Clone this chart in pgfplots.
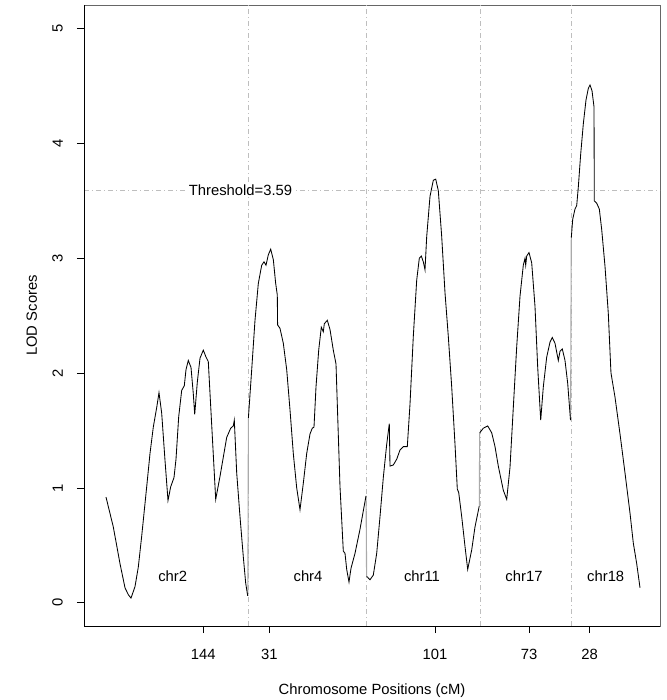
\documentclass[border=0pt]{standalone}
\usepackage{fontspec}
\setmainfont{Liberation Sans}
\usepackage{pgfplots}
\pgfplotsset{compat=1.18}
\definecolor{rgray}{RGB}{190,190,190}
\definecolor{jgray}{RGB}{170,170,170}
\begin{document}
\begin{tikzpicture}[font=\fontsize{14.8}{17}\selectfont]
\begin{axis}[
  scale only axis, width=576pt, height=621pt,
  xmin=84, xmax=660, ymin=-0.203, ymax=5.207,
  axis line style={draw=black!60, line width=0.8pt},
  xtick={203.3,269.3,435,529,589.7},
  xticklabels={144,31,101,73,28},
  ytick={0,1,2,3,4,5},
  tick align=outside, major tick length=7pt,
  tick style={black, line width=0.8pt},
  xtick pos=bottom, ytick pos=left,
  /pgf/number format/assume math mode=true,
  xticklabel style={anchor=north, inner sep=0pt, yshift=-16pt},
  yticklabel style={xshift=-14pt, rotate=90, anchor=south, inner sep=0pt},
  xlabel={Chromosome Positions (cM)},
  ylabel={LOD Scores},
  xlabel style={at={(axis description cs:0.5,-0.0934)}, anchor=north, inner sep=0pt},
  ylabel style={at={(axis description cs:-0.0811,0.5)}, rotate=0, anchor=south, inner sep=0pt},
  clip=false,
]
\coordinate (bl) at (rel axis cs:0,0);
\coordinate (tr) at (rel axis cs:1,1);
% chromosome boundaries and threshold
\foreach \bx in {248.6,366.3,480.0,571.5}{
  \edef\tmp{\noexpand\draw[rgray, line width=0.8pt, dash pattern=on 5pt off 3pt on 1pt off 3pt] (axis cs:\bx,-0.203) -- (axis cs:\bx,5.207);}\tmp
}
\draw[rgray, line width=0.8pt, dash pattern=on 5pt off 3pt on 1pt off 3pt] (axis cs:84,3.59) -- (axis cs:660,3.59);
\node[fill=white, inner sep=1pt] at (axis cs:240.5,3.59) {Threshold=3.59};
% jumps between chromosomes
\addplot[jgray, line width=1.1pt] coordinates {(247.9,0.06) (248.4,1.61)};
\addplot[jgray, line width=1.1pt] coordinates {(366.1,0.93) (366.6,0.23)};
\addplot[jgray, line width=1.1pt] coordinates {(479.3,0.84) (479.7,1.48)};
\addplot[jgray, line width=1.1pt] coordinates {(570.6,1.59) (571.3,3.18)};
% chr2
\addplot[black, line width=0.85pt] table {
x y
106 0.92
113.3 0.66
120 0.34
125 0.13
128.3 0.07
131 0.04
135 0.14
138.3 0.31
141.7 0.58
146.7 1.01
150 1.30
153.3 1.53
156.7 1.70
159 1.83
161.7 1.65
165 1.24
168 0.89
170.7 1.01
174 1.09
176 1.25
178.7 1.62
181.7 1.85
184.3 1.89
186 2.03
188.3 2.11
191 2.05
193.3 1.82
194.7 1.64
197.3 1.92
200 2.13
203.3 2.20
206 2.14
208.3 2.10
215.7 0.90
220 1.10
226.7 1.44
230.7 1.52
233.3 1.54
234.3 1.59
236.7 1.13
240 0.75
243.3 0.40
245.7 0.17
247.7 0.06
};
% chr4
\addplot[black, line width=0.85pt] table {
x y
248.4 1.61
251.7 2.03
255 2.46
258.3 2.78
261.7 2.94
264 2.97
266 2.94
268.3 3.03
270.7 3.08
273.3 2.99
275.7 2.78
277.3 2.68
277.6 2.42
280 2.39
283.3 2.26
286.7 2.03
290 1.68
293.3 1.30
296.7 1.00
300 0.81
303.3 1.04
306.7 1.30
310 1.47
312.3 1.52
314 1.53
316 1.88
318.7 2.20
321.3 2.40
323.3 2.36
324.3 2.43
327.3 2.46
330 2.38
333.3 2.20
336 2.08
337.3 1.73
340 1.01
343.3 0.45
345 0.43
346.7 0.29
349 0.18
351 0.30
355 0.43
360 0.64
366 0.93
};
% chr11
\addplot[black, line width=0.85pt] table {
x y
366.7 0.23
370 0.20
373.3 0.24
376.7 0.43
380 0.75
383.3 1.09
386.7 1.38
389.3 1.56
390 1.19
393.3 1.20
396.7 1.25
400 1.33
403.3 1.36
407.3 1.36
410 1.73
413.3 2.32
416.7 2.81
419.3 3.00
421.3 3.02
423.3 2.97
425 2.90
426.7 3.19
430 3.54
433.3 3.68
435.7 3.69
438.3 3.59
441.7 3.19
445 2.70
448.3 2.32
451.7 1.88
455 1.38
457.3 0.99
458.7 0.96
461.7 0.75
465 0.49
467.7 0.29
471.7 0.46
475 0.66
479.2 0.84
};
% chr17
\addplot[black, line width=0.85pt] table {
x y
479.7 1.48
483.3 1.52
487.7 1.54
491.7 1.48
495 1.36
498.3 1.19
503.3 0.98
506.7 0.90
510 1.18
513.3 1.70
516.7 2.23
520 2.67
523.3 2.94
525 3.00
525.7 2.94
526.7 3.02
529 3.05
531.7 2.96
535 2.58
537.7 2.05
540.7 1.59
543.3 1.88
546.7 2.14
550 2.27
552.3 2.31
555 2.26
558.3 2.11
560 2.19
562.3 2.21
565 2.11
567.7 1.91
570.5 1.59
};
% chr18
\addplot[black, line width=0.85pt] table {
x y
571.3 3.18
572.7 3.34
575 3.43
576.7 3.46
578.3 3.62
580.7 3.91
583.3 4.17
586 4.38
588.3 4.48
590 4.51
592 4.46
594 4.32
594.3 3.50
596.7 3.48
599.3 3.43
601.7 3.25
605 2.93
608.3 2.52
610.7 2.05
611 2.00
615 1.79
620 1.47
625 1.13
630 0.78
633.3 0.52
636.7 0.34
640 0.13
};
% chromosome names
\node at (axis cs:172.7,0.23) {chr2};
\node at (axis cs:308,0.23) {chr4};
\node at (axis cs:422,0.23) {chr11};
\node at (axis cs:524,0.23) {chr17};
\node at (axis cs:605.7,0.23) {chr18};
\draw[black, line width=0.8pt] (rel axis cs:0,1) -- (rel axis cs:0,0) -- (rel axis cs:1,0);
\end{axis}
\pgfresetboundingbox
\path ([shift={(-84pt,-74pt)}]bl) rectangle ([shift={(6pt,5pt)}]tr);
\end{tikzpicture}
\end{document}
